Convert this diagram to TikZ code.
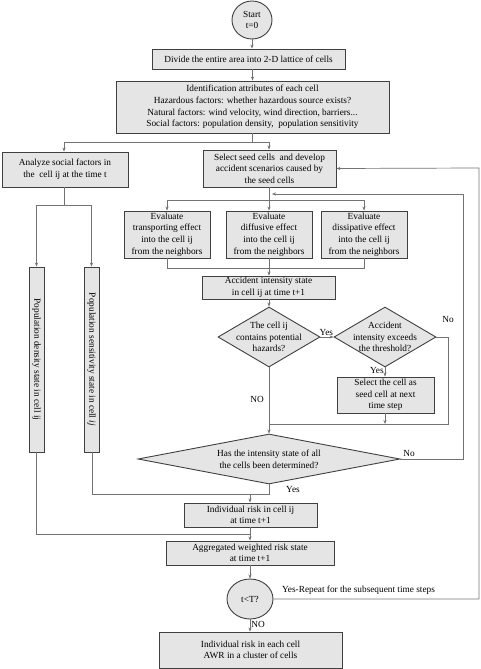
\documentclass[tikz,border=0pt]{standalone}
\usepackage{fontspec}
\setmainfont{Liberation Serif}
\usetikzlibrary{shapes.geometric,arrows.meta}
\begin{document}
\begin{tikzpicture}[x=1pt,y=-1pt,
  txt/.style={font=\fontsize{9.3}{11.6}\selectfont},
  box/.style={txt,draw=black!75,fill=black!10,line width=0.9pt,align=center,inner sep=0pt},
  dia/.style={diamond,draw=black!75,fill=black!10,line width=0.9pt,inner sep=0pt,shape aspect=1.7},
  ell/.style={ellipse,draw=black!75,fill=black!10,line width=0.9pt,inner sep=0pt,txt,align=center},
  ln/.style={draw=black!55,line width=0.7pt},
  arr/.style={ln,-{Stealth[length=4pt,width=3.2pt]}},
  lab/.style={txt,inner sep=0pt}]
\useasboundingbox (0,0) rectangle (480,669);
\node[ell,minimum width=40,minimum height=38] (start) at (252,20) {Start\\t=0};
\node[box,minimum width=193,minimum height=20] (divide) at (248.5,59) {Divide the entire area into 2-D lattice of cells};
\node[box,minimum width=273,minimum height=52] (ident) at (252.5,107) {Identification attributes of each cell\\Hazardous factors: whether hazardous source exists?\\Natural factors: wind velocity, wind direction, barriers...\\Social factors: population density,\ \ population sensitivity};
\node[box,minimum width=126,minimum height=35] (analyze) at (65,169.5) {Analyze social factors in\\the\ \ cell ij at the time t};
\node[box,minimum width=133,minimum height=37] (select) at (269.5,168.5) {Select seed cells\ \ and develop\\accident scenarios caused by\\the seed cells};
\node[box,minimum width=86,minimum height=47] (eval1) at (167,234.5) {Evaluate\\transporting effect\\into the cell ij\\from the neighbors};
\node[box,minimum width=86,minimum height=47] (eval2) at (269,234.5) {Evaluate\\diffusive effect\\into the cell ij\\from the neighbors};
\node[box,minimum width=86,minimum height=47] (eval3) at (364,234.5) {Evaluate\\dissipative effect\\into the cell ij\\from the neighbors};
\node[box,minimum width=15,minimum height=185] (vbox1) at (36.5,359.5) {};
\node[lab,rotate=-90] (vt1) at (vbox1.center) {Population density state in cell ij};
\node[box,minimum width=15,minimum height=185] (vbox2) at (91.5,359.5) {};
\node[lab,rotate=-90] (vt2) at (vbox2.center) {Population sensitivity state in cell \textit{ij}};
\node[box,minimum width=133,minimum height=23] (accident) at (268.5,287.5) {Accident intensity state\\in cell ij at time t+1};
\node[dia,minimum width=102,minimum height=60] (d1) at (269,337) {};
\node[lab,align=center] (d1t) at (d1.center) {The cell ij\\contains potential\\hazards?};
\node[dia,minimum width=102,minimum height=60] (d2) at (385,337) {};
\node[lab,align=center] (d2t) at (d2.center) {Accident\\intensity exceeds\\the threshold?};
\node[box,minimum width=97,minimum height=36] (selcell) at (385.5,395) {Select the cell as\\seed cell at next\\time step};
\node[dia,shape aspect=5.2,minimum width=262,minimum height=50] (bigd) at (269,459) {};
\node[lab,align=center] (bigdt) at (bigd.center) {Has the intensity state of all\\the cells been determined?};
\node[box,minimum width=133,minimum height=24] (indiv) at (250.5,515) {Individual risk in cell ij\\at time t+1};
\node[box,minimum width=168,minimum height=24] (agg) at (250,553) {Aggregated weighted risk state\\at time t+1};
\node[ell,minimum width=46,minimum height=40] (tT) at (250,599) {t<T?};
\node[box,minimum width=183,minimum height=36] (final) at (250.5,650) {Individual risk in each cell\\AWR in a cluster of cells};
% connectors
\draw[arr] (start) -- (divide.north -| start);
\draw[arr] (divide.south -| ident) -- (ident.north);
\draw[ln] (ident.south) -- ++(0,9) coordinate (j1);
\draw[arr] (j1) -| (analyze.north -| 64,0);
\draw[arr] (j1) -| (select.north -| 269,0);
\draw[ln] (analyze.south -| 64,0) -- (64,205) coordinate (j2);
\draw[arr] (j2) -| (vbox1.north);
\draw[arr] (j2) -| (vbox2.north);
\draw[ln] (select.south -| 269,0) -- (269,200) coordinate (j3);
\draw[arr] (j3) -| (eval1.north);
\draw[arr] (j3) -- (eval2.north);
\draw[arr] (j3) -| (eval3.north);
\draw[ln] (eval1.south) |- (364,268) coordinate (j4) -- (eval3.south);
\draw[arr] (eval2.south) -- (accident.north -| eval2);
\draw[arr] (accident.south -| d1) -- (d1.north);
\draw[arr] (d1.east) -- (d2.west) node[lab,pos=0.45,above=1pt] (y1) {Yes};
\draw[arr] (d2.south) -- (selcell.north -| d2) node[lab,pos=0.35,left=1pt] (y2) {Yes};
\coordinate (j5) at (269,424);
\draw[ln] (d2.east) -- (448,337) -- (448,424) -- (j5);
\node[lab] (no2) at (448,319) {No};
\draw[arr] (selcell.south -| d2) -- (385,424);
\draw[arr] (d1.south) -- (bigd.north);
\node[lab] (no1) at (257,399) {NO};
\coordinate (j6) at (272,194);
\draw[arr] (bigd.east) -- (463,459) -- (463,194) -- (j6);
\node[lab] (no3) at (409,453) {No};
\draw[arr] (tT.east) -- (479,599) -- (479,168) -- (select.east);
\node[lab,anchor=west] (rep) at (282,590) {Yes-Repeat for the subsequent time steps};
\draw[ln] (bigd.south) -- (269,494) coordinate (j7) -- (92,494) -- (vbox2.south -| 92,0);
\node[lab] (y3) at (293,489) {Yes};
\draw[arr] (250,494) -- (indiv.north -| 250,0);
\draw[ln] (vbox1.south -| 36,0) -- (36,534) -- (250,534) coordinate (j8);
\draw[arr] (indiv.south -| 250,0) -- (agg.north -| 250,0);
\draw[arr] (agg.south -| tT) -- (tT.north);
\draw[arr] (tT.south) -- (final.north -| tT) node[lab,pos=0.45,right=1pt] (no4) {NO};
\end{tikzpicture}
\end{document}
